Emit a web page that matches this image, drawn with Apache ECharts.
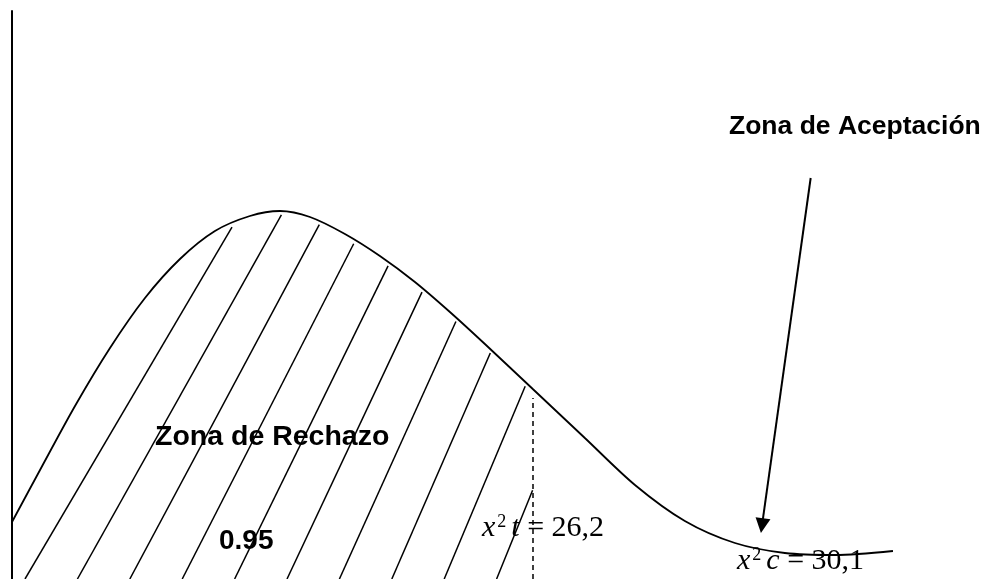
<!DOCTYPE html>
<html>
<head>
<meta charset="utf-8">
<script src="https://cdn.jsdelivr.net/npm/echarts@6/dist/echarts.min.js"></script>
<style>
html,body{margin:0;padding:0;background:#fff;}
#chart{width:984px;height:579px;}
</style>
</head>
<body>
<div id="chart"></div>
<script>
// ---- data (x: statistic, y: relative density) ----
const chiX = [0, 1.41, 3.17, 4.93, 6.69, 8.45, 10.21, 11.97, 13.48, 14.99, 16.75, 18.51, 20.27, 22.03, 23.79, 26.2, 28.82, 31.34, 33.85, 36.37, 38.88, 41.40, 44.32];
const density = [5.7, 10.9, 17.3, 23.1, 28.1, 32.0, 34.8, 36.3, 36.8, 36.2, 34.5, 32.3, 29.7, 26.7, 23.5, 19.0, 14.1, 9.4, 5.8, 3.6, 2.6, 2.4, 2.8];
const chiTable = 26.2;          // critical value (dashed line)
const chiCalc = 30.1;           // computed statistic
const dashTop = 18.1;           // top of the dashed line
const arrowFrom = [40.18, 40.1];
const arrowTo = [37.73, 5.34];
const rejectLabel = 'Zona de Rechazo';
const acceptLabel = 'Zona de Aceptación';
const confidence = '0.95';

const fmt = v => String(v).replace('.', ',');
const curveData = chiX.map((x, i) => [x, density[i]]);

function renderHatch(params, api) {
  const pts = chiX.map((x, i) => api.coord([x, density[i]]));
  const base = api.coord([0, 0]);
  const crit = api.coord([chiTable, 0])[0];
  const bottom = base[1];
  function curveY(px) {
    for (let i = 0; i < pts.length - 1; i++) {
      if (px >= pts[i][0] && px <= pts[i + 1][0]) {
        const t = (px - pts[i][0]) / (pts[i + 1][0] - pts[i][0]);
        return pts[i][1] + t * (pts[i + 1][1] - pts[i][1]);
      }
    }
    return bottom;
  }
  const children = [];
  const gap = 3, first = 13, step = 52.4;
  for (let k = 0; k < 40; k++) {
    const b = base[0] + first + k * step;
    if (b >= crit) break;
    const s = 1.7 + 0.085 * k;
    let endX = b, endY = bottom;
    for (let px = b; px <= crit; px += 0.5) {
      const ly = bottom - (px - b) * s;
      if (ly <= curveY(px) + gap) break;
      endX = px; endY = ly;
    }
    children.push({
      type: 'line',
      shape: { x1: b, y1: bottom, x2: endX, y2: endY },
      style: { stroke: '#000', lineWidth: 1.5 }
    });
  }
  return { type: 'group', children };
}

const chart = echarts.init(document.getElementById('chart'));
const serif = '"Liberation Serif", "Times New Roman", serif';
const sans = '"Liberation Sans", Arial, sans-serif';

function mathText(sub, value) {
  return {
    text: '{i|x}{s|2}{i|' + sub + '}{n| = ' + fmt(value) + '}',
    x: 0, y: 0,
    align: 'left', verticalAlign: 'top',
    textAlign: 'left', textVerticalAlign: 'top',
    rich: {
      i: { fontFamily: serif, fontStyle: 'italic', fontSize: 30, lineHeight: 30, fill: '#000', color: '#000' },
      s: { fontFamily: serif, fontSize: 18, verticalAlign: 'top', padding: [0, 5, 0, 2], fill: '#000', color: '#000' },
      n: { fontFamily: serif, fontSize: 30, lineHeight: 30, fill: '#000', color: '#000' }
    }
  };
}
function plain(text, size) {
  return {
    text: text, x: 0, y: 0,
    font: 'bold ' + size + 'px ' + sans,
    fill: '#000',
    align: 'left', verticalAlign: 'top',
    textAlign: 'left', textVerticalAlign: 'top'
  };
}

chart.setOption({
  animation: false,
  backgroundColor: '#fff',
  grid: { left: 12, right: 0, top: 11, bottom: 0, containLabel: false },
  xAxis: {
    type: 'value', min: 0, max: 48.9,
    show: false
  },
  yAxis: {
    type: 'value', min: 0, max: 56.8,
    axisLine: { show: true, lineStyle: { color: '#000', width: 2 } },
    axisTick: { show: false },
    axisLabel: { show: false },
    splitLine: { show: false }
  },
  series: [
    {
      type: 'custom',
      renderItem: renderHatch,
      data: [0],
      silent: true,
      clip: false,
      z: 1
    },
    {
      type: 'line',
      data: curveData,
      smooth: 0.3,
      showSymbol: false,
      symbol: 'none',
      silent: true,
      lineStyle: { color: '#000', width: 1.8 },
      z: 3,
      markLine: {
        silent: true,
        animation: false,
        symbol: ['none', 'none'],
        label: { show: false },
        emphasis: { disabled: true },
        data: [
          [
            { coord: [chiTable, 0], lineStyle: { color: '#000', width: 1.5, type: [5, 4] } },
            { coord: [chiTable, dashTop] }
          ],
          [
            { coord: arrowFrom, lineStyle: { color: '#000', width: 2, type: 'solid' } },
            { coord: arrowTo, symbol: 'triangle', symbolSize: [15, 15] }
          ]
        ]
      }
    }
  ],
  graphic: [
    { type: 'text', x: 155, y: 423, z: 10, style: plain(rejectLabel, 28.5) },
    { type: 'text', x: 219, y: 527, z: 10, style: plain(confidence, 28) },
    { type: 'text', x: 729, y: 113.6, z: 10, style: plain(acceptLabel, 26.5) },
    { type: 'text', x: 482, y: 513, z: 10, style: mathText('t', chiTable) },
    { type: 'text', x: 737, y: 546, z: 10, style: mathText('c', chiCalc) }
  ]
});
</script>
</body>
</html>
